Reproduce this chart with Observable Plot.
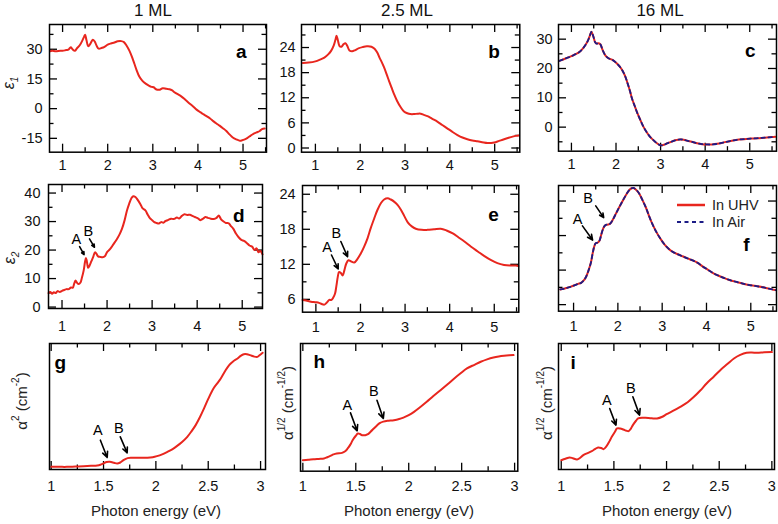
<!DOCTYPE html>
<html><head><meta charset="utf-8">
<script src="https://cdn.jsdelivr.net/npm/d3@7"></script>
<script src="https://cdn.jsdelivr.net/npm/@observablehq/plot@0.6"></script>
<style>
body{margin:0;background:#fff;}
#c{position:relative;width:778px;height:524px;overflow:hidden;background:#fff;font-family:"Liberation Sans",Arial,sans-serif;}
</style></head><body><div id="c"></div>
<script>
const RED = "#e8261e", BLUE = "#1c1c86";
const FONT = "Liberation Sans, Arial, sans-serif";

const colTitles = ["1 ML", "2.5 ML", "16 ML"];
const xTitle = "Photon energy (eV)";
const legendLabels = ["In UHV", "In Air"];

// epsilon_1, 1 ML  [photon energy (eV), value]
const eps1_1ML = [[0.72,29.0],[0.77,29.2],[0.85,29.0],[0.95,29.3],[1.0,29.2],[1.08,29.6],[1.13,29.8],[1.18,31.0],[1.22,30.0],[1.27,29.2],[1.32,30.5],[1.38,32.0],[1.44,34.5],[1.48,36.5],[1.50,37.3],[1.53,34.5],[1.57,31.5],[1.62,33.0],[1.67,34.8],[1.71,34.0],[1.76,31.5],[1.80,30.3],[1.86,30.6],[1.93,31.2],[2.0,32.3],[2.07,32.9],[2.15,33.4],[2.22,34.0],[2.30,34.1],[2.36,33.6],[2.42,31.8],[2.48,29.3],[2.54,26.0],[2.59,22.8],[2.64,19.5],[2.70,16.2],[2.77,14.0],[2.85,12.5],[2.92,11.5],[2.97,11.0],[3.02,10.8],[3.07,9.8],[3.14,9.5],[3.22,10.3],[3.30,10.0],[3.37,9.8],[3.43,9.2],[3.48,8.3],[3.55,7.3],[3.63,6.2],[3.72,4.5],[3.82,2.5],[3.90,1.0],[3.97,-0.5],[4.05,-1.8],[4.12,-2.8],[4.19,-3.8],[4.27,-5.0],[4.34,-6.3],[4.41,-7.5],[4.48,-8.6],[4.56,-10.0],[4.63,-11.3],[4.70,-13.0],[4.78,-14.7],[4.85,-15.5],[4.93,-16.2],[4.98,-16.0],[5.04,-15.5],[5.10,-14.8],[5.17,-13.6],[5.23,-12.7],[5.30,-12.0],[5.37,-11.3],[5.42,-10.3],[5.48,-10.0]];
// epsilon_1, 2.5 ML
const eps1_25ML = [[0.72,20.3],[0.85,20.4],[1.0,20.7],[1.1,21.1],[1.2,21.6],[1.28,22.3],[1.35,23.2],[1.41,24.5],[1.45,26.0],[1.47,26.8],[1.50,25.8],[1.54,24.3],[1.58,24.2],[1.63,24.8],[1.67,25.0],[1.71,24.4],[1.76,23.3],[1.82,23.1],[1.89,23.4],[1.96,23.8],[2.05,24.1],[2.15,24.3],[2.25,24.2],[2.32,23.7],[2.38,22.8],[2.43,21.6],[2.48,20.5],[2.53,19.3],[2.59,17.6],[2.64,16.1],[2.70,14.4],[2.75,13.0],[2.82,11.3],[2.90,9.8],[2.97,8.8],[3.05,8.3],[3.12,8.1],[3.20,8.1],[3.28,8.2],[3.35,8.2],[3.42,7.9],[3.50,7.6],[3.60,7.0],[3.72,6.3],[3.83,5.5],[3.94,4.7],[4.05,3.9],[4.17,3.1],[4.28,2.5],[4.39,2.1],[4.50,1.8],[4.61,1.6],[4.72,1.4],[4.84,1.2],[4.92,1.2],[4.99,1.3],[5.10,1.7],[5.21,2.1],[5.33,2.5],[5.47,2.9],[5.54,3.0]];
// epsilon_1, 16 ML (UHV and air curves coincide)
const eps1_16ML = [[0.73,22.6],[0.8,23.0],[0.9,23.6],[1.0,24.2],[1.08,24.8],[1.16,25.4],[1.24,26.5],[1.31,27.9],[1.37,29.5],[1.42,31.5],[1.45,32.5],[1.49,31.0],[1.53,29.0],[1.56,28.5],[1.61,28.6],[1.65,28.2],[1.70,26.3],[1.76,24.5],[1.83,23.5],[1.91,23.0],[1.97,22.4],[2.02,21.7],[2.08,20.7],[2.14,19.4],[2.20,17.6],[2.25,15.4],[2.31,12.5],[2.36,9.7],[2.42,7.2],[2.47,5.1],[2.55,2.3],[2.62,0],[2.70,-2.0],[2.77,-3.4],[2.85,-4.6],[2.92,-5.5],[3.0,-6.2],[3.08,-6.0],[3.15,-5.5],[3.22,-5.1],[3.33,-4.5],[3.44,-4.2],[3.52,-4.3],[3.59,-4.6],[3.70,-5.0],[3.82,-5.5],[3.93,-5.8],[4.04,-5.9],[4.15,-5.9],[4.27,-5.7],[4.42,-5.2],[4.57,-4.7],[4.72,-4.3],[4.87,-4.1],[5.02,-3.9],[5.16,-3.8],[5.33,-3.6],[5.50,-3.4],[5.57,-3.3]];
// epsilon_2, 1 ML
const eps2_1ML = [[0.70,4.9],[0.74,5.3],[0.78,4.7],[0.82,5.2],[0.86,4.9],[0.90,5.6],[0.95,5.3],[1.0,5.7],[1.05,6.0],[1.10,6.3],[1.15,6.3],[1.20,6.9],[1.24,6.8],[1.27,8.2],[1.30,9.3],[1.33,8.6],[1.37,8.1],[1.41,8.6],[1.44,10.2],[1.48,12.8],[1.51,15.8],[1.53,17.2],[1.55,16.2],[1.58,13.8],[1.61,14.5],[1.65,16.0],[1.69,17.5],[1.73,19.2],[1.76,18.8],[1.80,17.8],[1.85,17.6],[1.90,17.5],[1.95,17.8],[2.0,19.3],[2.07,20.4],[2.14,22.0],[2.22,23.9],[2.28,25.6],[2.33,27.4],[2.39,30.5],[2.44,33.8],[2.49,36.2],[2.54,38.2],[2.58,38.9],[2.63,38.6],[2.68,37.6],[2.74,36.1],[2.79,34.6],[2.85,33.9],[2.90,32.5],[2.95,31.2],[3.0,30.5],[3.05,29.8],[3.10,29.5],[3.15,29.3],[3.20,29.8],[3.25,29.6],[3.30,30.2],[3.36,30.6],[3.42,31.0],[3.48,30.9],[3.55,31.4],[3.60,31.1],[3.66,32.0],[3.72,32.6],[3.78,32.3],[3.84,32.4],[3.89,32.0],[3.95,31.6],[4.01,31.2],[4.07,30.5],[4.13,31.0],[4.18,31.6],[4.24,31.3],[4.30,31.0],[4.37,30.9],[4.43,31.3],[4.48,32.1],[4.53,30.8],[4.58,30.1],[4.64,29.5],[4.70,29.4],[4.74,28.6],[4.80,27.5],[4.86,25.8],[4.92,24.5],[4.98,23.6],[5.04,23.2],[5.10,22.5],[5.16,21.6],[5.22,21.2],[5.27,20.0],[5.32,20.6],[5.36,19.2],[5.40,19.7],[5.45,18.5]];
// epsilon_2, 2.5 ML
const eps2_25ML = [[0.70,5.9],[0.78,5.8],[0.89,5.6],[1.0,5.5],[1.07,5.4],[1.13,5.2],[1.19,5.1],[1.24,5.4],[1.30,5.9],[1.35,5.9],[1.39,6.3],[1.43,7.0],[1.46,8.3],[1.49,9.8],[1.52,10.7],[1.56,10.5],[1.60,10.1],[1.64,11.0],[1.68,12.1],[1.73,12.7],[1.79,12.5],[1.86,12.3],[1.93,12.9],[2.01,13.9],[2.08,15.0],[2.16,16.5],[2.23,18.2],[2.31,19.9],[2.38,21.3],[2.46,22.5],[2.53,23.1],[2.61,23.3],[2.68,23.1],[2.76,22.7],[2.84,22.1],[2.91,21.3],[2.98,20.3],[3.06,19.2],[3.15,18.5],[3.24,18.1],[3.37,17.9],[3.50,17.9],[3.65,18.0],[3.80,18.1],[3.93,17.8],[4.07,17.3],[4.20,16.6],[4.33,15.9],[4.48,15.0],[4.63,14.2],[4.78,13.4],[4.93,12.7],[5.07,12.2],[5.22,11.9],[5.35,11.8],[5.49,11.8],[5.54,11.7]];
// epsilon_2, 16 ML (UHV and air curves coincide)
const eps2_16ML = [[0.70,4.4],[0.78,4.6],[0.86,4.9],[0.94,5.2],[1.02,5.6],[1.10,6.0],[1.17,6.3],[1.23,7.0],[1.28,8.0],[1.34,10.0],[1.39,12.1],[1.43,14.8],[1.47,17.0],[1.50,17.8],[1.53,17.9],[1.56,18.1],[1.59,18.7],[1.62,20.0],[1.65,21.4],[1.69,22.6],[1.73,23.1],[1.78,23.2],[1.83,23.5],[1.89,24.7],[1.95,26.2],[2.03,28.2],[2.11,30.1],[2.19,31.9],[2.26,33.2],[2.31,33.7],[2.35,33.8],[2.41,33.3],[2.48,32.2],[2.55,30.4],[2.63,28.2],[2.70,25.8],[2.78,23.3],[2.87,21.0],[2.97,18.9],[3.06,17.3],[3.16,16.0],[3.25,15.2],[3.35,14.6],[3.46,14.0],[3.57,13.4],[3.69,12.8],[3.80,12.1],[3.91,11.1],[4.02,10.2],[4.13,9.3],[4.25,8.5],[4.40,7.7],[4.55,7.0],[4.70,6.5],[4.85,6.0],[5.00,5.6],[5.15,5.3],[5.32,4.9],[5.49,4.4],[5.56,4.2]];
// alpha^2, 1 ML (arbitrary units)
const alpha2_1ML = [[1.0,1.4],[1.08,1.4],[1.15,1.4],[1.23,1.7],[1.31,2.0],[1.38,2.3],[1.44,2.6],[1.47,3.2],[1.50,4.4],[1.53,5.6],[1.56,5.8],[1.60,5.0],[1.63,4.3],[1.66,5.2],[1.69,7.2],[1.73,9.0],[1.77,9.3],[1.85,9.3],[1.92,9.3],[1.97,9.8],[2.01,10.7],[2.06,12.3],[2.11,14.5],[2.16,16.9],[2.20,19.4],[2.25,23.0],[2.30,27.5],[2.34,32.3],[2.38,37.7],[2.42,44.5],[2.46,52.2],[2.50,60.5],[2.55,69.6],[2.59,74.5],[2.62,78.3],[2.66,84.5],[2.70,89.9],[2.74,93.3],[2.78,95.7],[2.81,98.0],[2.84,99.4],[2.87,99.4],[2.90,98.6],[2.94,97.3],[2.97,97.1],[2.99,98.5],[3.02,100.6]];
// alpha^1/2, 2.5 ML (arbitrary units)
const alphaH_25ML = [[1.0,7.2],[1.05,7.6],[1.10,8.1],[1.15,8.4],[1.20,8.7],[1.23,9.8],[1.26,11.0],[1.29,12.3],[1.32,13.1],[1.37,13.6],[1.40,15.0],[1.42,17.0],[1.45,21.0],[1.47,24.6],[1.50,28.5],[1.52,30.4],[1.54,30.0],[1.56,29.0],[1.59,29.0],[1.61,29.6],[1.64,32.0],[1.67,34.8],[1.70,37.5],[1.73,39.7],[1.76,40.8],[1.80,41.5],[1.86,42.0],[1.91,43.0],[1.95,44.3],[2.0,46.5],[2.05,49.3],[2.11,53.5],[2.17,58.0],[2.23,62.8],[2.30,68.1],[2.37,73.5],[2.43,78.3],[2.49,82.8],[2.55,87.0],[2.62,90.2],[2.68,92.8],[2.74,94.9],[2.80,96.5],[2.85,97.4],[2.90,98.0],[2.95,98.4],[2.99,98.6]];
// alpha^1/2, 16 ML (arbitrary units)
const alphaH_16ML = [[1.0,7.2],[1.04,8.5],[1.08,9.6],[1.11,8.9],[1.15,7.8],[1.18,9.3],[1.21,11.6],[1.25,13.4],[1.29,15.1],[1.32,16.8],[1.35,18.3],[1.38,17.8],[1.40,16.8],[1.43,19.4],[1.46,24.0],[1.48,27.5],[1.51,32.0],[1.53,34.8],[1.56,34.8],[1.59,33.9],[1.62,32.8],[1.64,32.5],[1.66,34.5],[1.68,37.7],[1.71,41.5],[1.73,43.5],[1.77,44.2],[1.80,44.1],[1.86,43.6],[1.91,43.5],[1.96,45.0],[2.0,47.2],[2.06,50.0],[2.13,53.6],[2.20,57.6],[2.26,62.3],[2.32,67.8],[2.38,73.9],[2.45,80.0],[2.51,85.5],[2.58,91.0],[2.64,95.7],[2.70,98.8],[2.76,100.6],[2.81,100.8],[2.86,100.6],[2.93,101.0],[3.0,101.2]];

// tick values
const xTicksWide = [1, 2, 3, 4, 5];
const xMinorWide = [0.5, 1.5, 2.5, 3.5, 4.5, 5.5];
const xTicksNarrow = [1, 1.5, 2, 2.5, 3];
const xMinorNarrow = [1.25, 1.75, 2.25, 2.75];

// A/B annotations: [label, labelX, labelY, arrowFromX, arrowFromY, arrowToX, arrowToY]
const annD = [["A",1.32,23.7,1.39,21.2,1.49,18.4],["B",1.585,26.5,1.61,23.9,1.72,21.0]];
const annE = [["A",1.25,14.9,1.35,13.6,1.50,11.2],["B",1.46,17.3,1.56,15.9,1.71,13.3]];
const annF = [["A",1.09,24.8,1.20,22.8,1.43,18.7],["B",1.33,30.9,1.50,28.6,1.68,25.2]];
const annG = [["A",1.446,32.8,1.47,24.6,1.535,9.6],["B",1.646,34.8,1.66,27.5,1.726,13.6]];
const annH = [["A",1.42,55,1.45,48.4,1.513,32.8],["B",1.67,66.7,1.70,59.4,1.76,43.5]];
const annI = [["A",1.434,59.4,1.46,52.2,1.52,37.7],["B",1.66,69.6,1.68,62.3,1.744,46.4]];

const panels = [
  {frame:[49,24,266,151.7], xd:[0.71,5.52], yd:[-22,42.5], xt:xTicksWide, xm:xMinorWide, yt:[-15,0,15,30], ym:[-22.5,-7.5,7.5,22.5,37.5], ylab:true, xpad:8, ypad:7, lines:[[eps1_1ML,"uhv"]], letter:["a","top-right",-20,34], ann:[], small:false},
  {frame:[300.7,24,519,151.7], xd:[0.69,5.56], yd:[-1,29.5], xt:xTicksWide, xm:xMinorWide, yt:[0,6,12,18,24], ym:[3,9,15,21,27], ylab:true, xpad:8, ypad:6, lines:[[eps1_25ML,"uhv"]], letter:["b","top-right",-20,34], ann:[], small:false},
  {frame:[557.7,24,775.7,150.7], xd:[0.71,5.6], yd:[-8.2,35], xt:xTicksWide, xm:xMinorWide, yt:[0,10,20,30], ym:[-5,5,15,25], ylab:true, xpad:8, ypad:6, lines:[[eps1_16ML,"uhv"],[eps1_16ML,"air"]], letter:["c","top-right",-21,33], ann:[], small:false},
  {frame:[48,184,262,308], xd:[0.70,5.45], yd:[-0.5,43], xt:xTicksWide, xm:xMinorWide, yt:[0,10,20,30,40], ym:[5,15,25,35], ylab:true, xpad:12, ypad:8, lines:[[eps2_1ML,"uhv"]], letter:["d","top-right",-18,37], ann:annD, small:true},
  {frame:[301.7,185,518,311.7], xd:[0.70,5.55], yd:[3.8,25.5], xt:xTicksWide, xm:xMinorWide, yt:[6,12,18,24], ym:[9,15,21], ylab:true, xpad:10, ypad:7, lines:[[eps2_25ML,"uhv"]], letter:["e","top-right",-20,36], ann:annE, small:false},
  {frame:[557.7,185,775.7,310.7], xd:[0.66,5.58], yd:[-1.9,34.5], xt:xTicksWide, xm:xMinorWide, yt:[0,10,20,30], ym:[5,15,25], ylab:false, xpad:10, ypad:7, lines:[[eps2_16ML,"uhv"],[eps2_16ML,"air"]], letter:["f","top-right",-27,66], ann:annF, small:false},
  {frame:[49,343.3,265,469.3], xd:[0.984,3.047], yd:[-0.9,108.7], xt:xTicksNarrow, xm:xMinorNarrow, yt:[], ym:[], ylab:false, xpad:11, ypad:7, lines:[[alpha2_1ML,"uhv"]], letter:["g","top-left",5,25], ann:annG, small:false},
  {frame:[300,343.3,517.3,471], xd:[0.978,3.03], yd:[-2.3,108.7], xt:xTicksNarrow, xm:xMinorNarrow, yt:[], ym:[], ylab:false, xpad:10, ypad:7, lines:[[alphaH_25ML,"uhv"]], letter:["h","top-left",13,25], ann:annH, small:false},
  {frame:[558.3,343.3,774.3,469.3], xd:[0.974,3.025], yd:[-0.9,108.7], xt:xTicksNarrow, xm:xMinorNarrow, yt:[], ym:[], ylab:false, xpad:11, ypad:7, lines:[[alphaH_16ML,"uhv"]], letter:["i","top-left",12,25], ann:annI, small:false}
];

const container = document.getElementById("c");
const inDom = (d, v) => v >= Math.min(d[0], d[1]) - 1e-9 && v <= Math.max(d[0], d[1]) + 1e-9;

function drawPanel(p) {
  const [L, T, R, B] = p.frame;
  const ML = 45, MT = 8, MR = 8, MB = 30;
  const iw = R - L, ih = B - T;
  const xt = p.xt.filter(v => inDom(p.xd, v)), xm = p.xm.filter(v => inDom(p.xd, v));
  const yt = p.yt.filter(v => inDom(p.yd, v)), ym = p.ym.filter(v => inDom(p.yd, v));
  const TK = 8, TKm = 4.5;
  const tsw = 1.3;
  const marks = [];
  // ticks pointing inward on all four sides
  marks.push(
    Plot.tickX(xt, {x: d => d, stroke: "#000", strokeWidth: tsw, insetTop: ih - TK}),
    Plot.tickX(xt, {x: d => d, stroke: "#000", strokeWidth: tsw, insetBottom: ih - TK}),
    Plot.tickX(xm, {x: d => d, stroke: "#000", strokeWidth: tsw, insetTop: ih - TKm}),
    Plot.tickX(xm, {x: d => d, stroke: "#000", strokeWidth: tsw, insetBottom: ih - TKm}),
    Plot.tickY(yt, {y: d => d, stroke: "#000", strokeWidth: tsw, insetRight: iw - TK}),
    Plot.tickY(yt, {y: d => d, stroke: "#000", strokeWidth: tsw, insetLeft: iw - TK}),
    Plot.tickY(ym, {y: d => d, stroke: "#000", strokeWidth: tsw, insetRight: iw - TKm}),
    Plot.tickY(ym, {y: d => d, stroke: "#000", strokeWidth: tsw, insetLeft: iw - TKm})
  );
  // tick labels
  marks.push(Plot.text(xt, {x: d => d, text: d => String(d), frameAnchor: "bottom", lineAnchor: "top", dy: p.xpad, fontSize: 14.5, fill: "#111"}));
  if (p.ylab) marks.push(Plot.text(yt, {y: d => d, text: d => String(d), frameAnchor: "left", textAnchor: "end", dx: -p.ypad, fontSize: 14.5, fill: "#111"}));
  // curves
  for (const [data, kind] of p.lines) {
    if (kind === "uhv") marks.push(Plot.line(data, {x: d => d[0], y: d => d[1], stroke: RED, strokeWidth: 2, curve: "catmull-rom"}));
    else marks.push(Plot.line(data, {x: d => d[0], y: d => d[1], stroke: BLUE, strokeWidth: 1.8, strokeDasharray: "3.5,3.5", curve: "catmull-rom"}));
  }
  // annotations
  if (p.ann.length) {
    marks.push(Plot.arrow(p.ann, {x1: d => d[3], y1: d => d[4], x2: d => d[5], y2: d => d[6], stroke: "#000", strokeWidth: 1.6, headLength: p.small ? 6 : 7, headAngle: 50}));
    marks.push(Plot.text(p.ann, {x: d => d[1], y: d => d[2], text: d => d[0], fontSize: 14.5, fill: "#000"}));
  }
  // frame
  marks.push(Plot.frame({stroke: "#000", strokeWidth: 1.5}));
  // panel letter
  const [lt, anchor, dx, dy] = p.letter;
  marks.push(Plot.text([lt], {text: d => d, frameAnchor: anchor, textAnchor: anchor.endsWith("right") ? "end" : "start", lineAnchor: "bottom", dx, dy, fontSize: 19, fontWeight: "bold", fill: "#000"}));

  const svg = Plot.plot({
    width: iw + ML + MR, height: ih + MT + MB,
    marginLeft: ML, marginRight: MR, marginTop: MT, marginBottom: MB,
    x: {domain: p.xd, axis: null}, y: {domain: p.yd, axis: null},
    style: {fontFamily: FONT, background: "transparent", overflow: "visible", maxWidth: "none"},
    marks
  });
  svg.style.position = "absolute";
  svg.style.left = (L - ML) + "px";
  svg.style.top = (T - MT) + "px";
  container.appendChild(svg);
}
panels.forEach(drawPanel);

// overlay: titles, axis labels, legend
const ov = d3.select(container).append("svg")
  .attr("width", 778).attr("height", 524)
  .style("position", "absolute").style("left", "0px").style("top", "0px")
  .style("font-family", FONT);

const colX = [153, 407, 660];
colTitles.forEach((t, i) => ov.append("text").attr("x", colX[i]).attr("y", 16).attr("text-anchor", "middle").attr("font-size", 17).attr("fill", "#111").text(t));
const xtX = [156, 409, 667];
xtX.forEach(x => ov.append("text").attr("x", x).attr("y", 516).attr("text-anchor", "middle").attr("font-size", 15).attr("fill", "#222").text(xTitle));

function epsLabel(x, y, sub) {
  const t = ov.append("text").attr("transform", `translate(${x},${y}) rotate(-90)`).attr("text-anchor", "middle").attr("fill", "#222");
  t.append("tspan").attr("font-size", 16).attr("font-style", "italic").text("ε");
  t.append("tspan").attr("font-size", 10).attr("font-style", "italic").attr("dy", 4).text(sub);
}
epsLabel(14, 83, "1");
epsLabel(15, 258, "2");

function alphaLabel(x, y, p1, p2) {
  const t = ov.append("text").attr("transform", `translate(${x},${y}) rotate(-90)`).attr("text-anchor", "middle").attr("fill", "#222").attr("font-size", 15);
  t.append("tspan").text("α");
  t.append("tspan").attr("font-size", 10).attr("dy", -8).text(p1);
  t.append("tspan").attr("dy", 8).text(" (cm");
  t.append("tspan").attr("font-size", 10).attr("dy", -8).text(p2);
  t.append("tspan").attr("dy", 8).text(")");
}
alphaLabel(27, 401, "2", "-2");
alphaLabel(293, 403, "1/2", "-1/2");
alphaLabel(552, 403, "1/2", "-1/2");

// legend in panel f
ov.append("line").attr("x1", 677).attr("x2", 705).attr("y1", 205).attr("y2", 205).attr("stroke", RED).attr("stroke-width", 2.5);
ov.append("line").attr("x1", 677).attr("x2", 705).attr("y1", 222).attr("y2", 222).attr("stroke", BLUE).attr("stroke-width", 2).attr("stroke-dasharray", "4,3.5");
ov.append("text").attr("x", 712).attr("y", 209.5).attr("font-size", 14.5).attr("fill", "#222").text(legendLabels[0]);
ov.append("text").attr("x", 712).attr("y", 226.7).attr("font-size", 14.5).attr("fill", "#222").text(legendLabels[1]);
</script></body></html>
